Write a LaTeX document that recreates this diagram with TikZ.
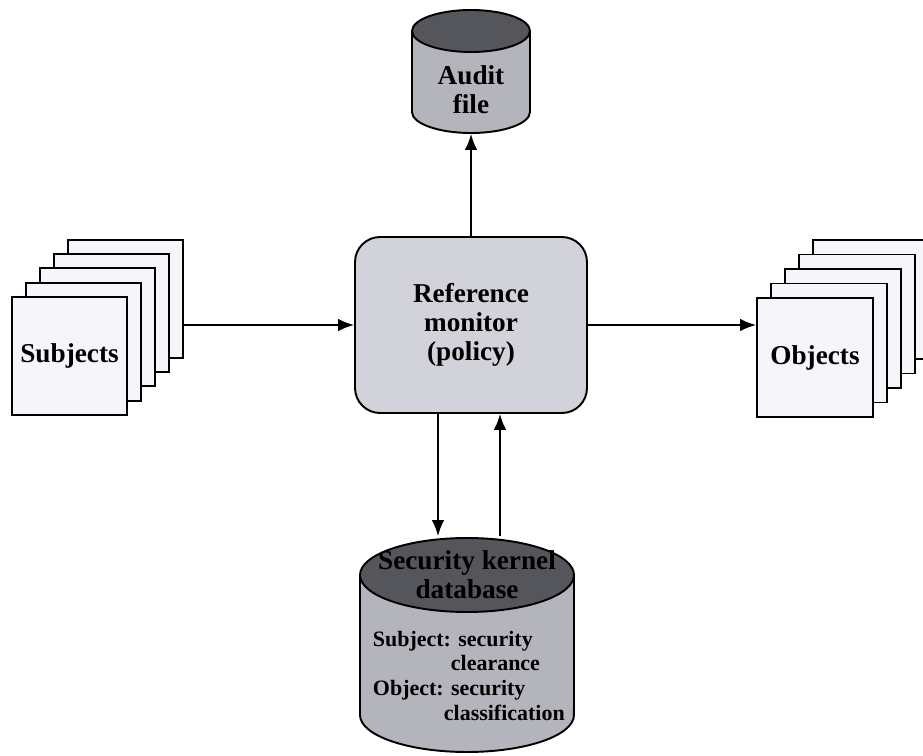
\documentclass[tikz,border=0pt]{standalone}
\usepackage{fontspec}
\setmainfont{Liberation Serif}
\usetikzlibrary{arrows.meta}
\definecolor{pagefill}{HTML}{F6F6FA}
\definecolor{boxfill}{HTML}{D2D2DA}
\definecolor{drumbody}{HTML}{B4B4BC}
\definecolor{drumtop}{HTML}{55555C}
\begin{document}
\begin{tikzpicture}[x=0.02cm, y=0.02cm, line width=1.1pt,
  txt/.style={font=\fontsize{15.5}{16.5}\selectfont\bfseries, align=center},
  small/.style={font=\fontsize{12.5}{14}\selectfont\bfseries, align=left, inner sep=0pt},
  page/.style={draw, fill=pagefill, minimum width=2.3cm, minimum height=2.36cm},
  slot/.style={inner sep=0pt},
  arr/.style={line width=0.9pt, -{Latex[length=0.32cm, width=0.25cm]}}]
\useasboundingbox (0,0) rectangle (923,755);
% audit file
\node[slot, minimum width=2.36cm, minimum height=2.46cm] (audit) at (471,683.5) {};
\draw[fill=drumbody] (412,724) -- (412,643) arc[start angle=180, end angle=360, x radius=1.18cm, y radius=0.42cm] -- (530,724);
\draw[fill=drumtop] (471,724) ellipse[x radius=1.18cm, y radius=0.42cm];
\node[txt] (audittxt) at (471,665) {Audit\\file};
\node[draw, fill=boxfill, rounded corners=0.5cm, minimum width=4.64cm, minimum height=3.52cm, txt] (mon) at (471,430) {Reference\\monitor\\(policy)};
\foreach \i in {4,3,2,1,0} {
  \node[page] (subj\i) at (69.5+14*\i,399+14.3*\i) {};
  \node[page, minimum width=2.32cm, minimum height=2.38cm] (obj\i) at (815+14*\i,397.5+14.5*\i) {};
}
\node[txt] (subjtxt) at (subj0) {Subjects};
\node[txt] (objtxt) at (obj0) {Objects};
% security kernel database
\node[slot, minimum width=4.28cm, minimum height=4.3cm] (db) at (467,110.5) {};
\draw[fill=drumbody] (360,180) -- (360,40) arc[start angle=180, end angle=360, x radius=2.14cm, y radius=0.74cm] -- (574,180);
\draw[fill=drumtop] (467,180) ellipse[x radius=2.14cm, y radius=0.74cm];
\node[txt] (dbtxt) at (467,180) {Security kernel\\database};
\node[small, anchor=north west] (dbinfo) at (372,125) {Subject: security\\\hspace*{1.56cm}clearance\\Object: security\\\hspace*{1.42cm}classification};
\coordinate (dn) at ([xshift=-0.66cm]mon.south);
\coordinate (up) at ([xshift=0.58cm]mon.south);
\draw[arr] (mon.north) -- (audit.south);
\draw[arr] (mon.west -| subj4.east) -- (mon.west);
\draw[arr] (mon.east) -- (mon.east -| obj0.west);
\draw[arr] (dn) -- (dn |- db.north);
\draw[arr] (up |- db.north) -- (up);
\end{tikzpicture}
\end{document}
